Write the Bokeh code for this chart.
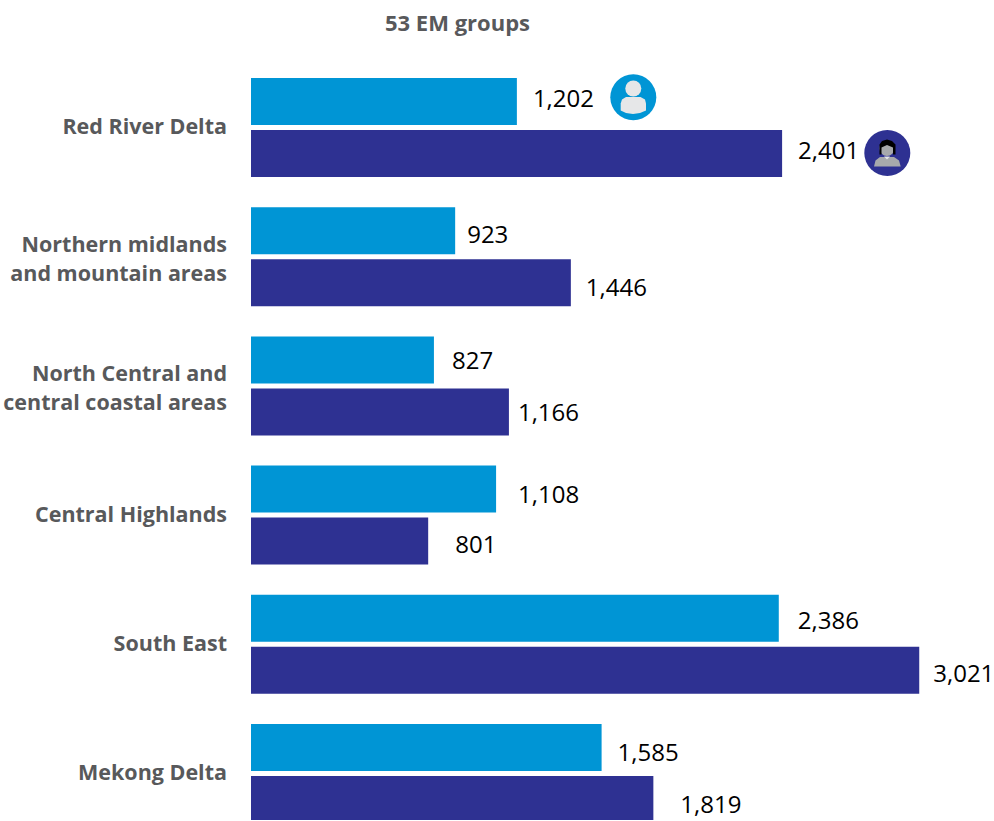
from bokeh.plotting import figure
from bokeh.models import Range1d, ColumnDataSource, Label
from bokeh.core.properties import value
from bokeh.embed import file_html
from bokeh.resources import INLINE

regions = ["Red River Delta", "Northern midlands\nand mountain areas",
           "North Central and\ncentral coastal areas", "Central Highlands",
           "South East", "Mekong Delta"]
light_values = [1202, 923, 827, 1108, 2386, 1585]
dark_values = [2401, 1446, 1166, 801, 3021, 1819]
title_text = "53 EM groups"

LIGHT = "#0095d5"
DARK = "#2e3192"
GREY = "#58595b"
W, H = 994, 821
LEFT = 251
SHIFT = 0.5
PX_PER_UNIT = 0.2212
PITCH = 129.2
FIRST = 128.0
FONT = "Open Sans"

# label offsets (px) from each bar end and bar centre, as placed by hand in the original
light_gaps = [16, 12, 18, 22, 19, 16]
dark_gaps = [16, 15, 9, 27, 14, 27]
light_dy = [-3, 4, 1, 5, 2, 5]
dark_dy = [-3, 5, 1, 3, 3, 5]
region_dy = [-2, 1, 1, -2, -2, -2]

def X(px):
    return (px - LEFT) / PX_PER_UNIT
def Y(py):
    return (py - FIRST) / PITCH

p = figure(width=W, height=H, output_backend="svg", toolbar_location=None,
           x_range=Range1d(X(LEFT - SHIFT), X(W - SHIFT)), y_range=Range1d(Y(H), Y(0)),
           min_border_left=LEFT, min_border_right=0, min_border_top=0, min_border_bottom=0,
           x_axis_location=None, y_axis_location=None, outline_line_color=None,
           border_fill_color="white", background_fill_color="white")
p.margin = (-1, 0, -1, -1)
p.grid.visible = False

idx = list(range(len(regions)))
bar_h = 47 / PITCH
off = 26 / PITCH
src = ColumnDataSource(dict(
    yl=[i - off for i in idx], yd=[i + off for i in idx], yc=idx,
    region=regions,
    light=light_values, dark=dark_values,
    ll=[f"{v:,}" for v in light_values], ld=[f"{v:,}" for v in dark_values],
    gl=light_gaps, gd=dark_gaps, dl=light_dy, dd=dark_dy, dr=region_dy,
    zero=[0] * len(idx)))

p.hbar(y="yl", right="light", left=0, height=bar_h, source=src, fill_color=LIGHT, line_color=None)
p.hbar(y="yd", right="dark", left=0, height=bar_h, source=src, fill_color=DARK, line_color=None)

p.text(x="light", y="yl", text="ll", x_offset="gl", y_offset="dl", source=src, text_font=value(FONT),
       text_font_size="24px", text_color="black", text_baseline="middle", text_align="left")
p.text(x="dark", y="yd", text="ld", x_offset="gd", y_offset="dd", source=src, text_font=value(FONT),
       text_font_size="24px", text_color="black", text_baseline="middle", text_align="left")

t = p.text(x="zero", y="yc", text="region", x_offset=-24, y_offset="dr", source=src, text_font=value(FONT),
           text_font_size="21.5px", text_font_style="bold", text_color=GREY, text_align="right",
           text_baseline="middle", text_line_height=1.0)
t.level = "overlay"

p.add_layout(Label(x=X(457.5), y=Y(22), text=title_text, text_font=FONT, text_font_size="22px",
                   text_font_style="bold", text_color=GREY, text_align="center",
                   text_baseline="middle"))

# person icons
def dot(px, py, size, color):
    p.scatter([X(px)], [Y(py)], size=size, marker="circle", fill_color=color, line_color=None)
def shape(pts, color):
    p.patch([X(a) for a, b in pts], [Y(b) for a, b in pts], fill_color=color, line_color=None)

dot(633.3, 97.8, 46, LIGHT)
dot(633.3, 89, 16, "#e6e7e8")
shape([(626, 97.5), (640.5, 97.5), (645, 100), (646, 104), (646, 111), (640, 113.5), (633, 114.5),
       (626, 113.5), (620.7, 111), (620.7, 104), (622, 100)], "#e6e7e8")

dot(887.3, 153.5, 46, DARK)
shape([(880, 157.5), (894, 157.5), (899, 161), (900.7, 167), (874, 167), (875.5, 161)], "#a7a9ac")
shape([(884, 157), (887, 160), (890, 157)], "#e6e7e8")
dot(887, 149, 15, "#a7a9ac")
shape([(879.5, 155), (879.5, 145), (882, 141.5), (887, 140), (892, 141.5), (895.5, 145), (895.5, 155),
       (893, 155), (893, 148), (887, 145.5), (881.5, 148), (881.5, 155)], "black")

open("out.html", "w").write(file_html(p, INLINE))
